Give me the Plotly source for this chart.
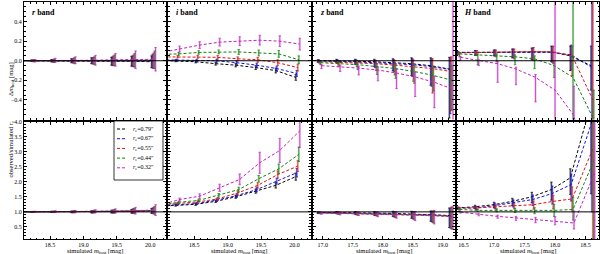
import plotly.graph_objects as go
from plotly.subplots import make_subplots

# ---------------- data ----------------
series_re = ["0.79", "0.67", "0.55", "0.44", "0.32"]
line_colors = ["#000000", "#1010e0", "#e01010", "#108010", "#c020c0"]
fill_colors = ["rgba(80,80,80,0.40)", "rgba(40,40,220,0.35)", "rgba(210,70,40,0.30)",
               "rgba(40,140,40,0.30)", "rgba(200,50,200,0.30)"]
x_shift = [-0.03, -0.015, 0.0, 0.015, 0.03]

band_names = ["r", "i", "z", "H"]

# r band
r_x = [17.95, 18.25, 18.55, 18.85, 19.15, 19.45, 19.75, 20.05]
r_dm = [[0.0, 0.0, 0.0, 0.0, 0.0, -0.005, -0.005, -0.01],
        [0.0, 0.0, 0.0, 0.0, 0.0, -0.005, -0.005, -0.005],
        [0.0, 0.0, 0.0, 0.0, 0.0, 0.0, 0.0, 0.0],
        [0.0, 0.0, 0.0, 0.0, 0.0, 0.005, 0.005, 0.01],
        [0.0, 0.0, 0.005, 0.005, 0.005, 0.01, 0.01, 0.015]]
r_dm_err = [[0.005, 0.008, 0.012, 0.02, 0.03, 0.04, 0.05, 0.06],
            [0.005, 0.008, 0.012, 0.02, 0.03, 0.045, 0.055, 0.07],
            [0.006, 0.01, 0.015, 0.025, 0.035, 0.05, 0.06, 0.08],
            [0.007, 0.01, 0.018, 0.03, 0.04, 0.055, 0.07, 0.09],
            [0.008, 0.012, 0.02, 0.035, 0.05, 0.065, 0.09, 0.12]]
r_re = [[1.0, 1.0, 1.0, 1.0, 1.0, 1.01, 1.02, 1.03],
        [1.0, 1.0, 1.0, 1.0, 1.0, 1.01, 1.02, 1.04],
        [1.0, 1.0, 1.0, 1.0, 1.01, 1.01, 1.03, 1.04],
        [1.0, 1.0, 1.0, 1.01, 1.01, 1.02, 1.03, 1.05],
        [1.0, 1.0, 1.01, 1.01, 1.02, 1.03, 1.04, 1.06]]
r_re_err = [[0.01, 0.015, 0.02, 0.025, 0.035, 0.045, 0.06, 0.08],
            [0.01, 0.015, 0.02, 0.03, 0.04, 0.05, 0.07, 0.09],
            [0.01, 0.015, 0.02, 0.03, 0.04, 0.055, 0.08, 0.11],
            [0.01, 0.015, 0.025, 0.035, 0.045, 0.06, 0.09, 0.13],
            [0.01, 0.02, 0.03, 0.04, 0.05, 0.07, 0.11, 0.18]]

# i band
i_x = [17.95, 18.25, 18.55, 18.85, 19.15, 19.45, 19.75, 20.05]
i_dm = [[0.005, 0.0, -0.01, -0.03, -0.045, -0.07, -0.1, -0.17],
        [0.01, 0.005, 0.0, 0.0, -0.02, -0.045, -0.08, -0.13],
        [0.04, 0.04, 0.04, 0.035, 0.02, 0.01, -0.02, -0.07],
        [0.065, 0.07, 0.085, 0.09, 0.09, 0.08, 0.07, 0.01],
        [0.08, 0.12, 0.16, 0.19, 0.2, 0.21, 0.2, 0.17]]
i_dm_err = [[0.008, 0.01, 0.012, 0.015, 0.018, 0.02, 0.025, 0.03],
            [0.008, 0.01, 0.012, 0.015, 0.018, 0.02, 0.025, 0.03],
            [0.01, 0.012, 0.015, 0.018, 0.02, 0.025, 0.03, 0.035],
            [0.012, 0.015, 0.018, 0.02, 0.025, 0.03, 0.035, 0.04],
            [0.025, 0.03, 0.035, 0.04, 0.045, 0.05, 0.055, 0.06]]
i_re = [[1.18, 1.22, 1.25, 1.35, 1.5, 1.69, 1.88, 2.17],
        [1.19, 1.24, 1.28, 1.39, 1.54, 1.74, 2.02, 2.3],
        [1.2, 1.28, 1.33, 1.43, 1.63, 1.88, 2.24, 2.52],
        [1.21, 1.32, 1.38, 1.55, 1.74, 2.1, 2.43, 2.91],
        [1.22, 1.41, 1.52, 1.8, 2.08, 2.63, 3.04, 3.69]]
i_re_err = [[0.02, 0.03, 0.035, 0.04, 0.05, 0.07, 0.09, 0.12],
            [0.02, 0.03, 0.035, 0.045, 0.06, 0.08, 0.1, 0.14],
            [0.02, 0.03, 0.04, 0.05, 0.07, 0.09, 0.12, 0.18],
            [0.03, 0.035, 0.045, 0.06, 0.08, 0.11, 0.16, 0.24],
            [0.04, 0.05, 0.08, 0.12, 0.18, 0.35, 0.4, 0.55]]

# z band
z_x = [16.95, 17.26, 17.57, 17.89, 18.2, 18.51, 18.83, 19.14]
z_dm = [[0.0, 0.0, -0.005, -0.01, -0.02, -0.03, -0.05, -0.085],
        [0.0, -0.005, -0.01, -0.02, -0.03, -0.04, -0.06, -0.09],
        [-0.01, -0.015, -0.02, -0.03, -0.045, -0.06, -0.08, -0.11],
        [-0.02, -0.03, -0.04, -0.06, -0.08, -0.11, -0.15, -0.2],
        [-0.05, -0.06, -0.075, -0.095, -0.125, -0.165, -0.22, -0.29]]
z_dm_up = [[0.01, 0.015, 0.02, 0.025, 0.04, 0.06, 0.08, 0.12],
           [0.01, 0.015, 0.02, 0.025, 0.04, 0.06, 0.08, 0.12],
           [0.01, 0.015, 0.02, 0.03, 0.05, 0.07, 0.1, 0.15],
           [0.01, 0.015, 0.02, 0.03, 0.04, 0.06, 0.08, 0.15],
           [0.01, 0.015, 0.02, 0.03, 0.04, 0.05, 0.06, 1.0]]
z_dm_dn = [[0.015, 0.02, 0.03, 0.05, 0.08, 0.12, 0.2, 0.5],
           [0.015, 0.02, 0.03, 0.05, 0.08, 0.12, 0.2, 0.45],
           [0.02, 0.03, 0.04, 0.07, 0.1, 0.15, 0.25, 0.4],
           [0.02, 0.03, 0.05, 0.08, 0.1, 0.12, 0.16, 0.3],
           [0.03, 0.05, 0.07, 0.11, 0.16, 0.2, 0.26, 1.0]]
z_re = [[0.98, 0.98, 0.97, 0.96, 0.95, 0.93, 0.91, 0.88],
        [0.98, 0.97, 0.96, 0.95, 0.94, 0.92, 0.9, 0.87],
        [0.97, 0.96, 0.95, 0.94, 0.93, 0.91, 0.89, 0.86],
        [0.97, 0.96, 0.95, 0.94, 0.92, 0.9, 0.88, 0.85],
        [0.96, 0.95, 0.94, 0.93, 0.91, 0.89, 0.87, 0.84]]
z_re_up = [[0.02, 0.03, 0.04, 0.05, 0.07, 0.09, 0.12, 0.25],
           [0.02, 0.03, 0.04, 0.05, 0.07, 0.09, 0.12, 0.25],
           [0.02, 0.03, 0.04, 0.05, 0.07, 0.1, 0.14, 0.3],
           [0.02, 0.03, 0.04, 0.05, 0.08, 0.1, 0.15, 0.3],
           [0.03, 0.04, 0.05, 0.06, 0.08, 0.12, 0.18, 0.35]]
z_re_dn = [[0.03, 0.04, 0.05, 0.07, 0.1, 0.14, 0.22, 0.4],
           [0.03, 0.04, 0.05, 0.07, 0.1, 0.14, 0.22, 0.4],
           [0.03, 0.04, 0.05, 0.07, 0.11, 0.15, 0.24, 0.42],
           [0.03, 0.04, 0.06, 0.08, 0.11, 0.16, 0.25, 0.42],
           [0.04, 0.05, 0.06, 0.09, 0.12, 0.18, 0.27, 0.42]]

# H band
H_x = [16.42, 16.72, 17.03, 17.33, 17.65, 17.97, 18.28, 18.62]
H_dm = [[0.085, 0.085, 0.09, 0.09, 0.09, 0.09, 0.05, -0.05],
        [0.085, 0.085, 0.09, 0.09, 0.09, 0.085, 0.06, -0.07],
        [0.08, 0.085, 0.09, 0.09, 0.095, 0.09, 0.05, -0.4],
        [0.07, 0.06, 0.05, 0.04, 0.02, -0.05, -0.17, -0.6],
        [0.035, 0.0, -0.03, -0.085, -0.17, -0.3, -0.56, -1.5]]
H_dm_up = [[0.01, 0.02, 0.02, 0.03, 0.04, 0.06, 0.1, 0.2],
           [0.01, 0.02, 0.02, 0.03, 0.04, 0.06, 0.1, 1.5],
           [0.01, 0.02, 0.02, 0.03, 0.04, 0.06, 0.1, 1.5],
           [0.01, 0.01, 0.02, 0.02, 0.03, 0.04, 1.5, 0.3],
           [0.01, 0.01, 0.02, 0.02, 0.03, 1.5, 0.3, 0.3]]
H_dm_dn = [[0.02, 0.03, 0.04, 0.06, 0.08, 0.1, 0.15, 0.25],
           [0.02, 0.03, 0.04, 0.06, 0.08, 0.1, 0.15, 1.5],
           [0.02, 0.03, 0.05, 0.07, 0.09, 0.12, 0.2, 1.5],
           [0.03, 0.1, 0.06, 0.08, 0.1, 0.12, 1.5, 0.3],
           [0.03, 0.05, 0.19, 0.16, 0.25, 1.5, 0.3, 0.3]]
H_re = [[1.13, 1.17, 1.24, 1.35, 1.5, 1.74, 2.13, 4.6],
        [1.13, 1.13, 1.21, 1.3, 1.41, 1.61, 1.91, 4.0],
        [1.13, 1.13, 1.17, 1.2, 1.24, 1.35, 1.43, 3.1],
        [1.08, 1.05, 1.05, 1.05, 1.04, 1.05, 1.08, 2.7],
        [0.99, 0.91, 0.85, 0.8, 0.74, 0.69, 0.63, 2.3]]
H_re_up = [[0.03, 0.05, 0.08, 0.1, 0.15, 0.25, 0.3, 3.0],
           [0.03, 0.05, 0.08, 0.1, 0.15, 0.25, 0.35, 3.0],
           [0.03, 0.04, 0.06, 0.08, 0.12, 0.2, 0.4, 3.0],
           [0.03, 0.04, 0.05, 0.07, 0.1, 0.2, 0.4, 3.0],
           [0.02, 0.03, 0.04, 0.05, 0.08, 0.15, 0.4, 3.0]]
H_re_dn = [[0.04, 0.06, 0.1, 0.14, 0.2, 0.35, 0.55, 3.0],
           [0.04, 0.06, 0.1, 0.14, 0.2, 0.35, 0.55, 3.0],
           [0.04, 0.05, 0.08, 0.1, 0.15, 0.25, 0.4, 3.0],
           [0.03, 0.04, 0.05, 0.07, 0.1, 0.2, 0.35, 3.0],
           [0.03, 0.04, 0.06, 0.08, 0.1, 0.12, 0.2, 3.0]]

x_ranges = [[18.11, 20.24], [18.11, 20.24], [16.83, 19.2], [16.39, 18.72]]
x_tickvals = [[18.5, 19.0, 19.5, 20.0], [18.5, 19.0, 19.5, 20.0],
              [17.0, 17.5, 18.0, 18.5, 19.0], [16.5, 17.0, 17.5, 18.0, 18.5]]
dm_range = [-0.6, 0.6]
dm_tickvals = [-0.4, -0.2, 0.0, 0.2, 0.4]
re_range = [0.1, 4.0]
re_tickvals = [0.5, 1.0, 1.5, 2.0, 2.5, 3.0, 3.5, 4.0]

panels = [
    (r_x, r_dm, r_dm_err, r_dm_err, r_re, r_re_err, r_re_err),
    (i_x, i_dm, i_dm_err, i_dm_err, i_re, i_re_err, i_re_err),
    (z_x, z_dm, z_dm_up, z_dm_dn, z_re, z_re_up, z_re_dn),
    (H_x, H_dm, H_dm_up, H_dm_dn, H_re, H_re_up, H_re_dn),
]

# ---------------- figure ----------------
W, H = 600, 254
ML, MR, MT, MB = 24, 1, 2, 15
fig = make_subplots(rows=2, cols=4, horizontal_spacing=2 / (W - ML - MR),
                    vertical_spacing=2 / (H - MT - MB))

FONT = "Liberation Serif"


def add_series(row, col, xs, vals, up, dn):
    for k in range(len(vals)):
        xk = [v + x_shift[k] for v in xs]
        # spread (distribution) band
        fig.add_trace(go.Scatter(
            x=xk, y=vals[k], mode="markers",
            marker=dict(size=1, opacity=0, color=line_colors[k]),
            error_y=dict(type="data", array=up[k], arrayminus=dn[k], symmetric=False,
                         color=fill_colors[k], thickness=2.2, width=0),
            showlegend=False, hoverinfo="skip"), row=row, col=col)
        # mean relation with error bar
        fig.add_trace(go.Scatter(
            x=xk, y=vals[k], mode="lines",
            line=dict(color=line_colors[k], width=1.0, dash="3px,2px"),
            error_y=dict(type="data", array=up[k], arrayminus=dn[k], symmetric=False,
                         color=line_colors[k], thickness=0.7, width=1.2),
            showlegend=False, name="r_e=" + series_re[k]), row=row, col=col)


for c, (xs, dm, dmu, dmd, re, reu, red) in enumerate(panels, start=1):
    add_series(1, c, xs, dm, dmu, dmd)
    add_series(2, c, xs, re, reu, red)
    fig.add_hline(y=0.0, row=1, col=c, line=dict(color="black", width=1))
    fig.add_hline(y=1.0, row=2, col=c, line=dict(color="black", width=1))

axis_common = dict(showline=True, linecolor="black", linewidth=1, mirror="allticks",
                   ticks="inside", ticklen=3, tickcolor="black", tickwidth=0.8,
                   showgrid=False, zeroline=False, automargin=False,
                   tickfont=dict(family=FONT, size=6, color="black"))

for row in (1, 2):
    for c in range(1, 5):
        fig.update_xaxes(range=x_ranges[c - 1], tickvals=x_tickvals[c - 1], tickformat=".1f",
                         showticklabels=(row == 2),
                         minor=dict(ticks="inside", ticklen=1.5, dtick=0.1, tickcolor="black", tickwidth=0.6),
                         row=row, col=c, **axis_common)
        if row == 1:
            fig.update_yaxes(range=dm_range, tickvals=dm_tickvals, tickformat=".1f",
                             showticklabels=(c == 1),
                             minor=dict(ticks="inside", ticklen=1.5, dtick=0.05, tickcolor="black", tickwidth=0.6),
                             row=row, col=c, **axis_common)
        else:
            fig.update_yaxes(range=re_range, tickvals=re_tickvals, tickformat=".1f",
                             showticklabels=(c == 1),
                             minor=dict(ticks="inside", ticklen=1.5, dtick=0.1, tickcolor="black", tickwidth=0.6),
                             row=row, col=c, **axis_common)


def px(x):
    return (x - ML) / (W - ML - MR)


def py(y):
    return (H - MB - y) / (H - MT - MB)


# band labels and x-axis titles
for c, b in enumerate(band_names, start=1):
    xref = "x domain" if c == 1 else f"x{c} domain"
    yref = "y domain" if c == 1 else f"y{c} domain"
    fig.add_annotation(x=0.04, y=0.91, xref=xref, yref=yref, xanchor="left", yanchor="middle",
                       text=f"<b><i>{b}</i> band</b>", showarrow=False,
                       font=dict(family=FONT, size=8, color="black"))
    xref2 = f"x{c + 4} domain"
    fig.add_annotation(x=0.5, y=py(250.5), xref=xref2, yref="paper", xanchor="center", yanchor="middle",
                       text="simulated <i>m</i><sub>host</sub> [mag]", showarrow=False,
                       font=dict(family=FONT, size=6.5, color="black"))

# y-axis titles
fig.add_annotation(x=px(5.0), y=py(60), xref="paper", yref="paper", textangle=-90,
                   text="Δ<i>m</i><sub>host</sub> [mag]", showarrow=False,
                   font=dict(family=FONT, size=6.5, color="black"))
fig.add_annotation(x=px(5.0), y=py(180), xref="paper", yref="paper", textangle=-90,
                   text="observed/simulated <i>r</i><sub>e</sub>", showarrow=False,
                   font=dict(family=FONT, size=6.5, color="black"))

# legend (drawn in lower-left panel)
fig.add_shape(type="rect", xref="paper", yref="paper", x0=px(114), x1=px(163), y0=py(180), y1=py(121),
              line=dict(color="black", width=0.8), fillcolor="white", layer="above")
for k, lab in enumerate(series_re):
    yy = 129 + 9.7 * k
    fig.add_shape(type="line", xref="paper", yref="paper", x0=px(117), x1=px(126), y0=py(yy), y1=py(yy),
                  line=dict(color=line_colors[k], width=1.0, dash="3px,2px"), layer="above")
    fig.add_annotation(x=px(131), y=py(yy), xref="paper", yref="paper", xanchor="left", yanchor="middle",
                       text=f"<i>r</i><sub>e</sub>={lab}″", showarrow=False,
                       font=dict(family=FONT, size=6, color="black"))

fig.update_layout(width=W, height=H, margin=dict(l=ML, r=MR, t=MT, b=MB, autoexpand=False),
                  paper_bgcolor="white", plot_bgcolor="white", showlegend=False)

fig.write_html("out.html", config={"displayModeBar": False},
               post_script="document.body.style.margin='0';document.body.style.overflow='hidden';")
